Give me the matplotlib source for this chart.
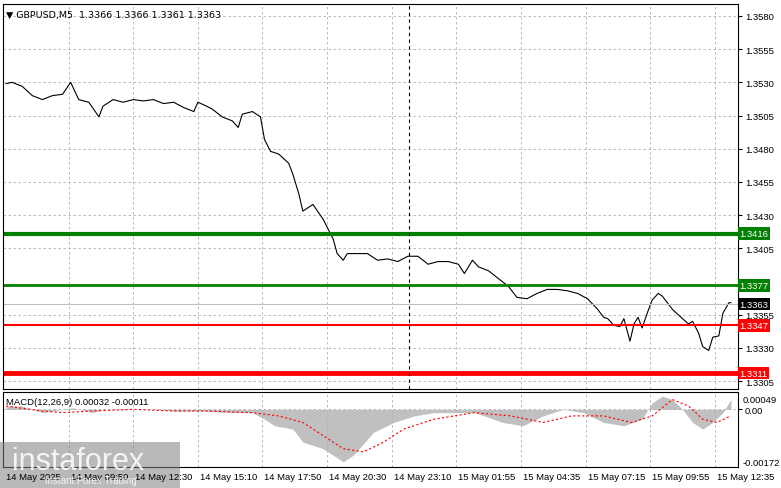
import matplotlib.pyplot as plt
from matplotlib.patches import Rectangle

plt.rcParams['font.family'] = ['Liberation Sans', 'DejaVu Sans']

# Data (bar index = number of 5-minute bars)
price_bars = [0, 3, 8, 13, 18, 23, 28, 32, 36, 41, 46, 48, 53, 58, 63, 68, 73, 78, 83, 88, 93, 95, 98, 102,
              107, 112, 115, 117, 122, 126, 128, 131, 135, 140, 142, 145, 147, 152, 157, 162, 164, 167, 169,
              174, 179, 184, 189, 194, 199, 204, 209, 214, 219, 224, 227, 231, 234, 239, 244, 249, 253, 258,
              263, 268, 273, 278, 283, 288, 293, 296, 298, 301, 304, 306, 309, 311, 313, 315, 318, 320, 323,
              325, 328, 330, 335, 338, 340, 343, 345, 348, 350, 353, 355, 358, 359]
prices = [1.3529, 1.3530, 1.3527, 1.3520, 1.3517, 1.3520, 1.3521, 1.3530, 1.3517, 1.3515, 1.3504, 1.3512,
          1.3517, 1.3515, 1.3517, 1.3516, 1.3517, 1.3514, 1.3515, 1.3511, 1.3508, 1.3515, 1.3513, 1.3510,
          1.3504, 1.3501, 1.3496, 1.3506, 1.3508, 1.3504, 1.3487, 1.3478, 1.3476, 1.3469, 1.3461, 1.3446,
          1.3433, 1.3438, 1.3427, 1.3412, 1.3401, 1.3396, 1.3401, 1.3401, 1.3401, 1.3396, 1.3397, 1.3395,
          1.3399, 1.3399, 1.3393, 1.3395, 1.3395, 1.3393, 1.3386, 1.3396, 1.3391, 1.3388, 1.3382, 1.3376,
          1.3368, 1.3367, 1.3371, 1.3374, 1.3374, 1.3373, 1.3371, 1.3367, 1.3359, 1.3353, 1.3352, 1.3347,
          1.3346, 1.3352, 1.3335, 1.3348, 1.3353, 1.3345, 1.3358, 1.3366, 1.3371, 1.3369, 1.3363, 1.3359,
          1.3352, 1.3348, 1.3350, 1.3341, 1.3331, 1.3328, 1.3338, 1.3339, 1.3356, 1.3364, 1.3364]

hist_bars = [0, 8, 18, 28, 33, 43, 48, 63, 73, 83, 98, 112, 122, 128, 133, 142, 147, 157, 167, 172, 182, 192,
             202, 212, 232, 237, 246, 256, 266, 276, 286, 296, 306, 315, 320, 325, 330, 335, 340, 345, 350,
             355, 359]
hist = [0.0001, 0.0001, -0.0001, 0.0, 0.00005, -0.0001, 0.0, 0.0, 0.0, -0.00005, -0.00005, -0.0001, -0.0001,
        -0.0003, -0.0005, -0.0006, -0.001, -0.0012, -0.0016, -0.0014, -0.0007, -0.0004, -0.0002, -0.0001,
        -0.0001, -0.0002, -0.0004, -0.0005, -0.0002, 0.0, -0.0001, -0.0004, -0.0005, -0.0003, 0.0002, 0.0004,
        0.0003, 0.0, -0.0004, -0.0006, -0.0004, -0.0001, 0.0003]
sig_bars = [0, 18, 28, 43, 63, 83, 98, 122, 135, 147, 157, 167, 177, 187, 197, 212, 232, 250, 266, 280, 296,
            310, 320, 330, 338, 345, 352, 359]
signal = [0.0001, -0.00005, -0.0001, -0.00005, 0.0, -0.00005, -0.00005, -0.0001, -0.0002, -0.0004, -0.0008,
          -0.0012, -0.0013, -0.001, -0.0006, -0.0003, -0.0001, -0.0002, -0.0004, -0.0002, -0.0002, -0.0004,
          -0.0002, 0.0003, 0.0001, -0.0003, -0.0004, -0.0002]

levels = [1.3416, 1.3377, 1.3347, 1.3311]
level_colors = ['#008000', '#008000', '#ff0000', '#ff0000']
level_widths = [3.0, 2.0, 1.5, 3.5]
price_ticks = [1.3580, 1.3555, 1.3530, 1.3505, 1.3480, 1.3455, 1.3430, 1.3405, 1.3355, 1.3330, 1.3305]
time_labels = ['14 May 2025', '14 May 09:50', '14 May 12:30', '14 May 15:10', '14 May 17:50', '14 May 20:30',
               '14 May 23:10', '15 May 01:55', '15 May 04:35', '15 May 07:15', '15 May 09:55', '15 May 12:35']
last_price = 1.3363

fs = 6.8
fig = plt.figure(figsize=(7.81, 4.89), dpi=100)
W, H = 781, 489
ax = fig.add_axes([3 / W, (H - 390) / H, 735 / W, 385 / H])
ax2 = fig.add_axes([3 / W, (H - 468) / H, 735 / W, 75 / H])
xmin, xmax = -1.5, 362.5

for a in (ax, ax2):
    a.set_xlim(xmin, xmax)
    for s in a.spines.values():
        s.set_color('black')
        s.set_linewidth(0.8)
    a.tick_params(left=False, labelleft=False, bottom=False, labelbottom=False)
    a.set_xticks([32 * k - 1 for k in range(1, 12)])
    a.grid(True, color='#b0b0b0', linestyle=(0, (3, 3)), linewidth=0.6)

# main panel
ax.set_ylim(1.3299, 1.3589)
ax.set_yticks(price_ticks)
ax.plot(price_bars, prices, color='black', lw=0.8)
ax.axhline(last_price, color='#c0c0c0', lw=0.8)
for lv, c, w in zip(levels, level_colors, level_widths):
    ax.axhline(lv, color=c, lw=w)
ax.axvline(199.5, color='black', lw=0.8, linestyle=(0, (3, 3)))
ax.tick_params(right=True, labelright=True, labelsize=fs, length=3, pad=2)
for lv, c in zip(levels + [last_price], level_colors + ['black']):
    ax.text(1.002, lv, f'{lv:.4f}', transform=ax.get_yaxis_transform(), fontsize=fs, color='white',
            va='center', ha='left', bbox=dict(boxstyle='square,pad=0.2', fc=c, ec='none'))
ax.text(0.004, 0.985, '\u25bc GBPUSD,M5  1.3366 1.3366 1.3361 1.3363', transform=ax.transAxes,
        fontsize=fs, va='top', ha='left', family=['DejaVu Sans'])

# MACD panel
ax2.set_ylim(-0.00176, 0.00053)
ax2.set_yticks([0.0])
ax2.fill_between(hist_bars, hist, 0, color='#c0c0c0', lw=0)
ax2.plot(sig_bars, signal, color='red', lw=0.8, linestyle=(0, (2, 2)))
ax2.tick_params(right=True, labelright=True, labelsize=fs, length=3, pad=2)
ax2.set_yticklabels(['0.00'])
for v, y in [('0.00049', 0.9), ('-0.00172', 0.06)]:
    ax2.text(1.006, y, v, transform=ax2.transAxes, fontsize=fs, va='center', ha='left')
ax2.text(0.004, 0.93, 'MACD(12,26,9) 0.00032 -0.00011', transform=ax2.transAxes, fontsize=fs,
         va='top', ha='left')

# time labels
for k, lab in enumerate(time_labels):
    xb = 32 * k - 1
    fig.text((3 + (xb - xmin) / (xmax - xmin) * 735 + 2) / W, 1 - 478 / H, lab, fontsize=fs,
             va='center', ha='left')

# watermark
fig.patches.append(Rectangle((0, 0), 180 / W, 46 / H, transform=fig.transFigure,
                             fc='#808080', alpha=0.55, ec='none'))
fig.text(12 / W, 1 - 462 / H, 'instaforex', fontsize=22, color='white', alpha=0.85, va='center', ha='left')
fig.text(45 / W, 1 - 481 / H, 'Instant Forex Trading', fontsize=7, color='white', alpha=0.85,
         va='center', ha='left')

fig.savefig('out.png', dpi=100)
